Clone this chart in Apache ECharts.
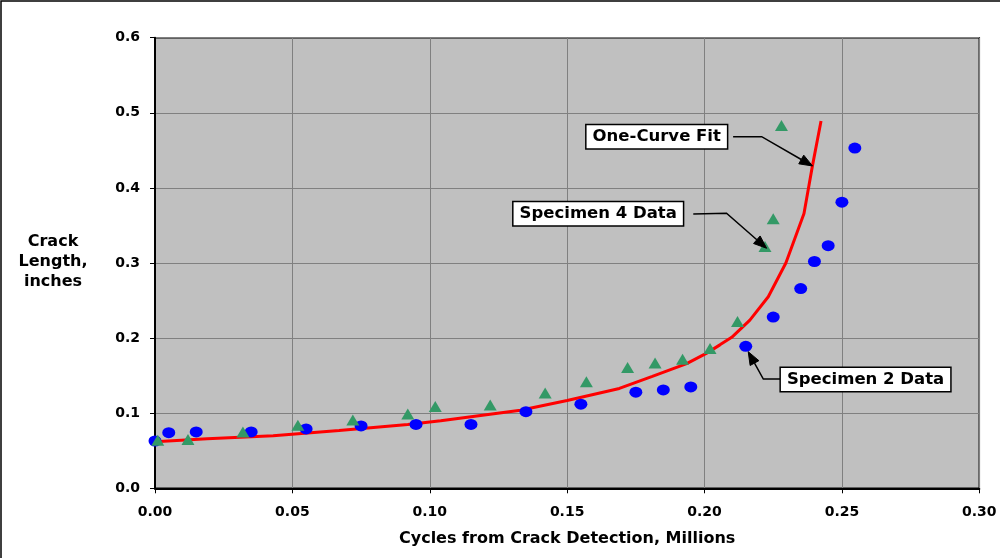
<!DOCTYPE html>
<html>
<head>
<meta charset="utf-8">
<script src="https://cdn.jsdelivr.net/npm/echarts@6/dist/echarts.min.js"></script>
<style>
  html, body { margin: 0; padding: 0; background: #fff; }
  #chart { width: 1000px; height: 558px; }
</style>
</head>
<body>
<div id="chart"></div>
<script>
// Crack growth: measured crack length vs. cycles since detection, with fitted curve.
const xAxisRange = { min: 0, max: 0.30, step: 0.05 };
const yAxisRange = { min: 0, max: 0.6, step: 0.1 };

const xTitle = 'Cycles from Crack Detection, Millions';
const yTitleLines = ['Crack', 'Length,', 'inches'];

// Specimen 2 measurements (millions of cycles, inches)
const spec2Cycles = [0.000, 0.005, 0.015, 0.035, 0.055, 0.075, 0.095, 0.115, 0.135, 0.155,
                     0.175, 0.185, 0.195, 0.215, 0.225, 0.235, 0.240, 0.245, 0.250, 0.2547];
const spec2Length = [0.063, 0.074, 0.075, 0.075, 0.079, 0.083, 0.085, 0.085, 0.102, 0.112,
                     0.128, 0.131, 0.135, 0.189, 0.228, 0.266, 0.302, 0.323, 0.381, 0.453];

// Specimen 4 measurements
const spec4Cycles = [0.001, 0.012, 0.032, 0.052, 0.072, 0.092, 0.102, 0.122, 0.142, 0.157,
                     0.172, 0.182, 0.192, 0.202, 0.212, 0.222, 0.225, 0.228];
const spec4Length = [0.064, 0.065, 0.075, 0.084, 0.091, 0.099, 0.109, 0.111, 0.127, 0.142,
                     0.161, 0.167, 0.172, 0.186, 0.222, 0.322, 0.359, 0.483];

// One-curve fit
const fitCycles = [0.000, 0.019, 0.043, 0.067, 0.092, 0.104, 0.133, 0.150, 0.169, 0.181,
                   0.1935, 0.2008, 0.2056, 0.2099, 0.2165, 0.2232, 0.2296, 0.2362, 0.2393, 0.2424];
const fitLength = [0.062, 0.066, 0.070, 0.077, 0.085, 0.090, 0.104, 0.117, 0.133, 0.149,
                   0.166, 0.180, 0.191, 0.201, 0.224, 0.255, 0.300, 0.366, 0.430, 0.489];

// Callout labels: text, box centre, line start, elbow, arrow tip (data units)
const calloutText  = ['One-Curve Fit', 'Specimen 4 Data', 'Specimen 2 Data'];
const calloutBox   = [[0.1826, 0.4682], [0.1613, 0.3656], [0.2586, 0.1449]];
const calloutStart = [[0.2104, 0.4682], [0.1959, 0.3652], [0.2277, 0.1455]];
const calloutElbow = [[0.2208, 0.4682], [0.2080, 0.3662], [0.2214, 0.1455]];
const calloutTip   = [[0.2393, 0.4292], [0.2226, 0.3196], [0.2159, 0.1819]];

const FONT = '"DejaVu Sans", Verdana, sans-serif';

const chart = echarts.init(document.getElementById('chart'), null, { renderer: 'canvas' });

const zip = (a, b) => a.map((v, i) => [v, b[i]]);

chart.setOption({
  animation: false,
  backgroundColor: '#ffffff',
  grid: {
    left: 155, right: 20.7, top: 37.7, bottom: 69.7,
    show: true, backgroundColor: '#c0c0c0', borderColor: '#000', borderWidth: 1.5
  },
  xAxis: {
    type: 'value', min: xAxisRange.min, max: xAxisRange.max, interval: xAxisRange.step,
    axisLine: { show: true, onZero: false, lineStyle: { color: '#000', width: 2 } },
    axisTick: { show: true, inside: false, length: 5, lineStyle: { color: '#000', width: 1 } },
    axisLabel: { margin: 17, color: '#000', fontFamily: FONT, fontWeight: 'bold', fontSize: 14,
                 formatter: v => v.toFixed(2) },
    splitLine: { show: true, lineStyle: { color: '#808080', width: 1 } }
  },
  yAxis: {
    type: 'value', min: yAxisRange.min, max: yAxisRange.max, interval: yAxisRange.step,
    axisLine: { show: true, onZero: false, lineStyle: { color: '#000', width: 2 } },
    axisTick: { show: true, inside: false, length: 5, lineStyle: { color: '#000', width: 1 } },
    axisLabel: { margin: 15, color: '#000', fontFamily: FONT, fontWeight: 'bold', fontSize: 14,
                 formatter: v => v.toFixed(1) },
    splitLine: { show: true, lineStyle: { color: '#808080', width: 1 } }
  },
  series: [
    {
      name: 'One-Curve Fit', type: 'line', data: zip(fitCycles, fitLength),
      showSymbol: false, smooth: false, z: 2,
      lineStyle: { color: '#ff0000', width: 3 }
    },
    {
      name: 'Specimen 2 Data', type: 'scatter', data: zip(spec2Cycles, spec2Length),
      symbol: 'circle', symbolSize: [13, 11], z: 3,
      itemStyle: { color: '#0000ff', opacity: 1 }
    },
    {
      name: 'Specimen 4 Data', type: 'scatter', data: zip(spec4Cycles, spec4Length),
      symbol: 'triangle', symbolSize: [13, 11], z: 3,
      itemStyle: { color: '#339966', opacity: 1 }
    }
  ]
});

// Titles, outer frame, and callout boxes with arrows
function buildGraphics() {
  const px = p => chart.convertToPixel({ gridIndex: 0 }, p);
  const els = [];

  els.push({
    type: 'rect', silent: true, z: 0,
    shape: { x: 1, y: 1, width: 1100, height: 700 },
    style: { fill: 'none', stroke: '#000', lineWidth: 1.5 }
  });

  const gl = px([xAxisRange.min, yAxisRange.min]);
  const gr = px([xAxisRange.max, yAxisRange.min]);
  els.push({
    type: 'text', silent: true, z: 10,
    x: (gl[0] + gr[0]) / 2, y: 539,
    style: { text: xTitle, fill: '#000', font: 'bold 16px ' + FONT, align: 'center', verticalAlign: 'middle' }
  });
  yTitleLines.forEach((t, i) => {
    els.push({
      type: 'text', silent: true, z: 10,
      x: 53, y: 242 + i * 20,
      style: { text: t, fill: '#000', font: 'bold 16px ' + FONT, align: 'center', verticalAlign: 'middle' }
    });
  });

  calloutText.forEach((t, i) => {
    const b = px(calloutBox[i]);
    const s = px(calloutStart[i]);
    const e = px(calloutElbow[i]);
    const tip = px(calloutTip[i]);
    const dx = tip[0] - e[0], dy = tip[1] - e[1];
    const len = Math.hypot(dx, dy);
    const ux = dx / len, uy = dy / len;
    const headL = 13, headW = 5;
    const base = [tip[0] - ux * headL, tip[1] - uy * headL];
    els.push({
      type: 'polyline', silent: true, z: 20,
      shape: { points: [s, e, base] },
      style: { stroke: '#000', lineWidth: 1.5, fill: null }
    });
    els.push({
      type: 'polygon', silent: true, z: 20,
      shape: { points: [tip, [base[0] - uy * headW, base[1] + ux * headW], [base[0] + uy * headW, base[1] - ux * headW]] },
      style: { fill: '#000', stroke: '#000', lineWidth: 1 }
    });
    els.push({
      type: 'text', silent: true, z: 21,
      x: b[0], y: b[1],
      style: {
        text: t, fill: '#000', font: 'bold 16.5px ' + FONT,
        align: 'center', verticalAlign: 'middle',
        backgroundColor: '#fff', borderColor: '#000', borderWidth: 1.5,
        padding: [3, 6, 3, 6]
      }
    });
  });
  return els;
}

chart.setOption({ graphic: buildGraphics() });
</script>
</body>
</html>
